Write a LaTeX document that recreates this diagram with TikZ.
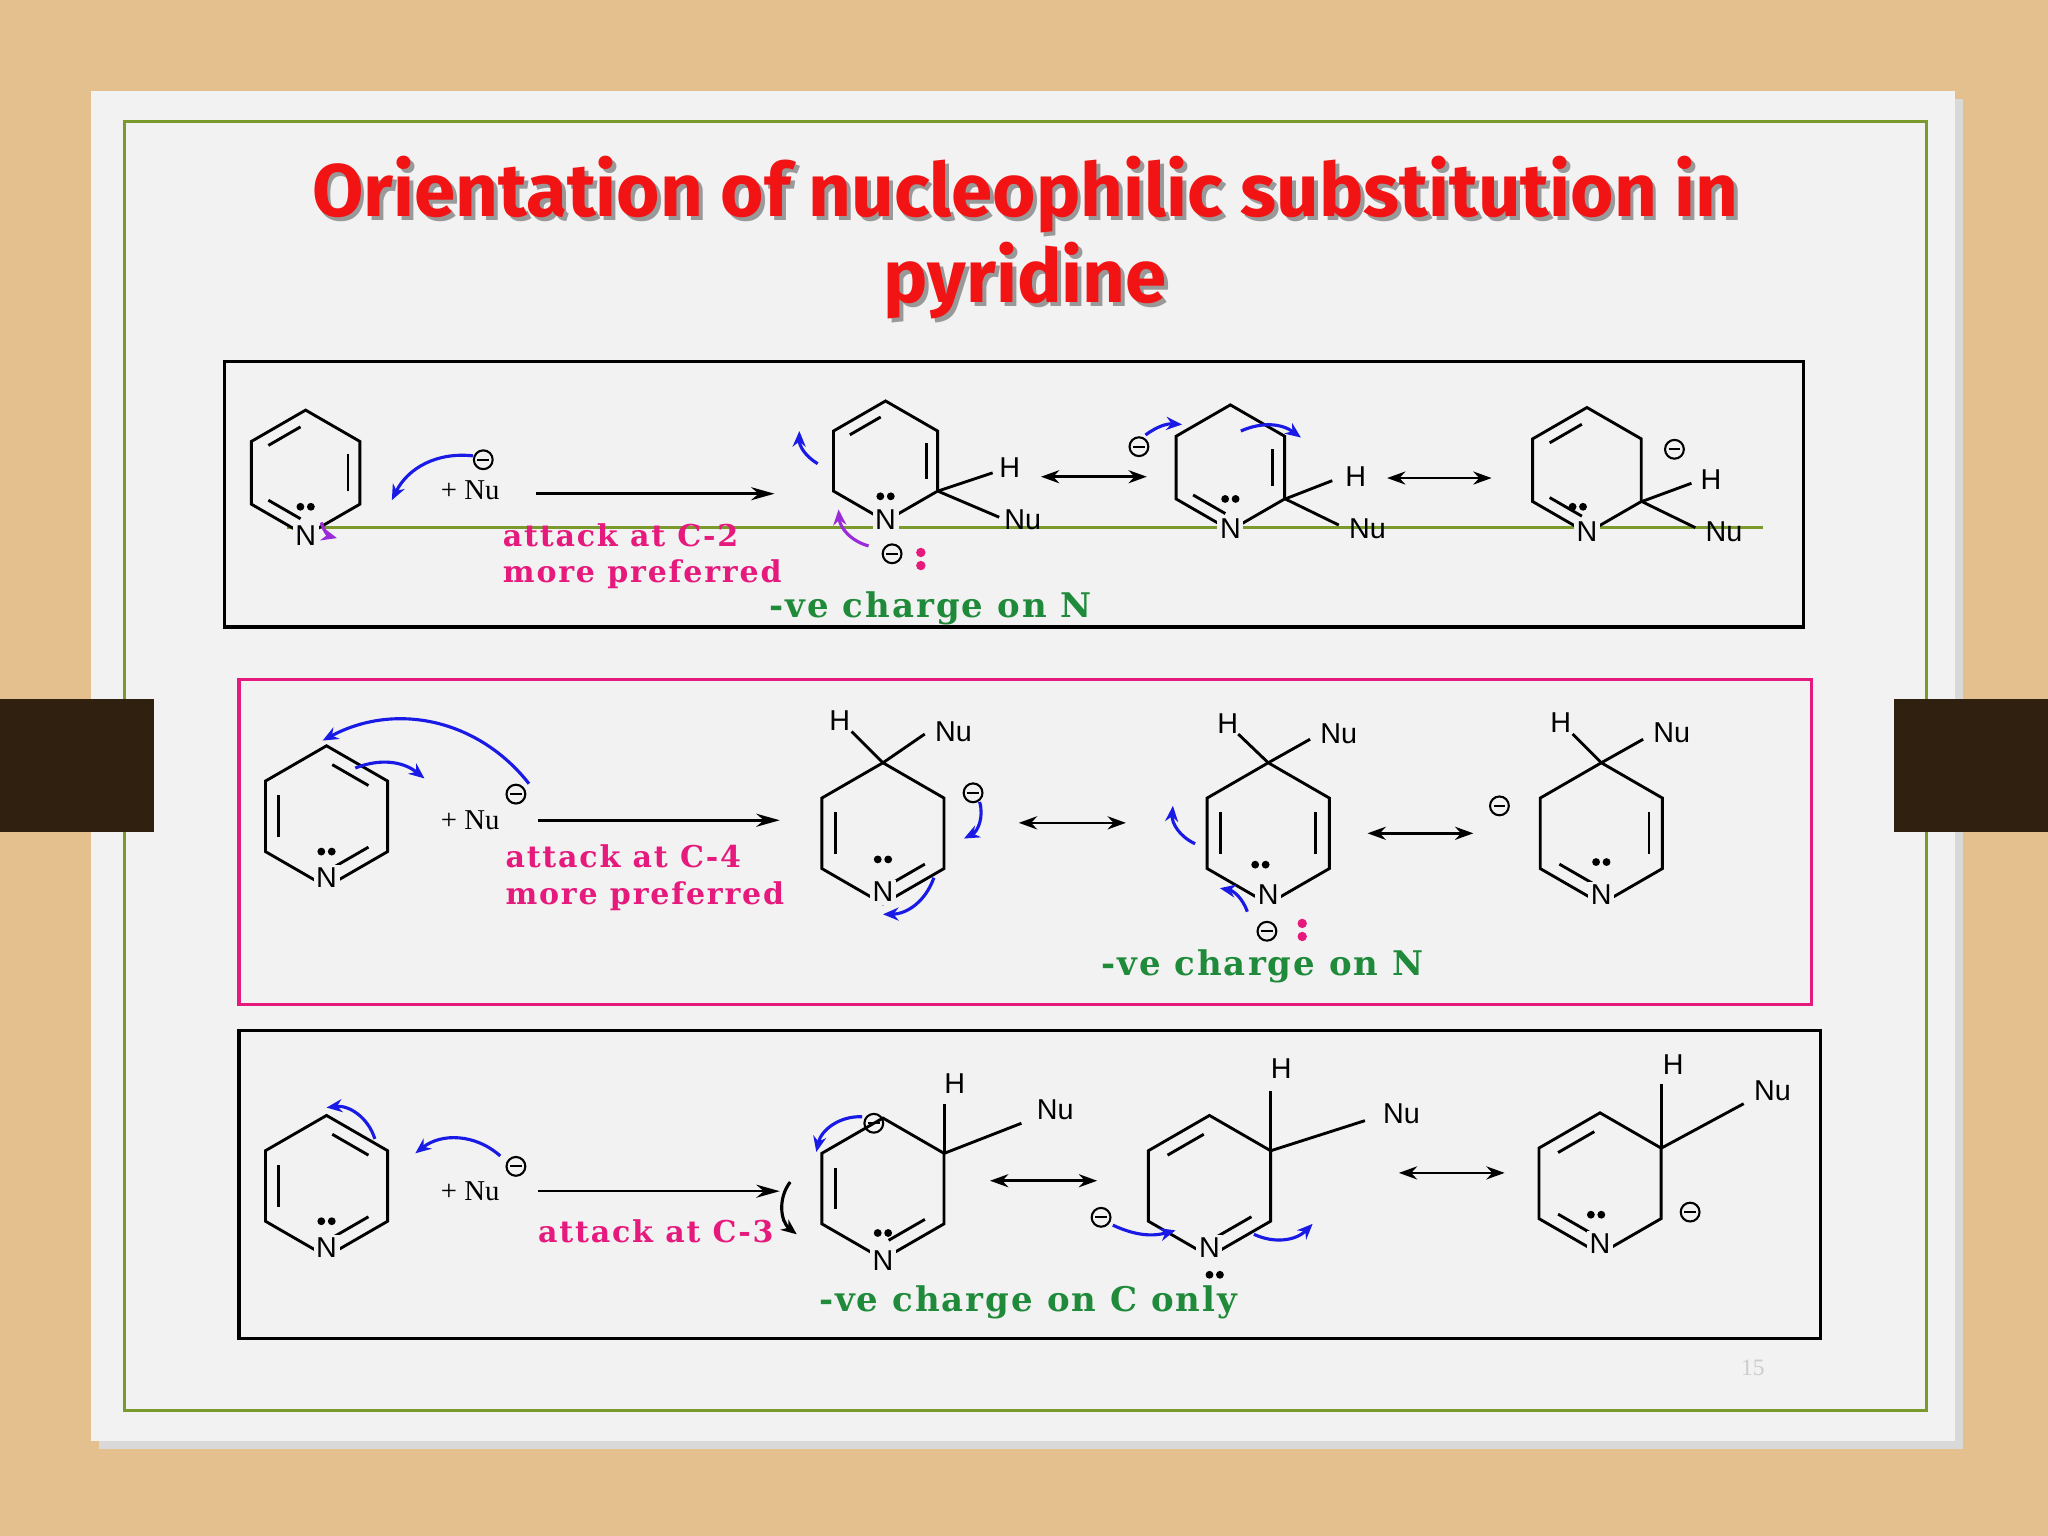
\documentclass[tikz,border=0pt]{standalone}
\usepackage{fontspec}
\setmainfont{Liberation Serif}
\newfontfamily\chemf{Liberation Sans}
\newfontfamily\titlef{Fira Sans}
\newfontfamily\notef[LetterSpace=6]{DejaVu Serif}
\usetikzlibrary{calc,arrows.meta}
\definecolor{wood}{HTML}{E3C08E}
\definecolor{slide}{HTML}{F2F2F2}
\definecolor{olive}{HTML}{7A9A2E}
\definecolor{mag}{HTML}{E6197D}
\definecolor{grn}{HTML}{1F8A3A}
\definecolor{ttl}{HTML}{F21414}
\definecolor{arblue}{HTML}{1A1AE6}
\definecolor{arpur}{HTML}{9A2BD9}
\tikzset{
  bond/.style={line width=1.1pt,black},
  lab/.style={font=\chemf\fontsize{11}{11}\selectfont,inner sep=1pt},
  labn/.style={font=\chemf\fontsize{11}{11}\selectfont,inner sep=1pt,fill=slide},
  note/.style={font=\notef\bfseries\fontsize{11.5}{14}\selectfont,anchor=west},
  gnote/.style={font=\notef\bfseries\fontsize{13}{14}\selectfont,anchor=west,text=grn},
  curv/.style={arblue,line width=1.2pt,-{Stealth[length=6pt,width=5pt]}},
  curp/.style={arpur,line width=1.2pt,-{Stealth[length=6pt,width=5pt]}},
  rxn/.style={line width=1pt,-{Stealth[length=9pt,width=5pt]}},
  res/.style={line width=1pt,{Stealth[length=7pt,width=5pt]}-{Stealth[length=7pt,width=5pt]}},
}
\newcommand{\hexring}[3]{\draw[bond] ($(#1,#2)+(90:#3)$)--($(#1,#2)+(30:#3)$)--($(#1,#2)+(-30:#3)$)--($(#1,#2)+(-90:#3)$)--($(#1,#2)+(-150:#3)$)--($(#1,#2)+(150:#3)$)--cycle;}
\newcommand{\dbl}[5]{\draw[bond] ($(#1,#2)!0.78!($(#1,#2)+(#4:#3)$)!0.12!($(#1,#2)!0.78!($(#1,#2)+(#5:#3)$)$)$)--($(#1,#2)!0.78!($(#1,#2)+(#5:#3)$)!0.12!($(#1,#2)!0.78!($(#1,#2)+(#4:#3)$)$)$);}
\newcommand{\mchg}[2]{\draw[line width=0.8pt] (#1,#2) circle[radius=3.6pt]; \draw[line width=0.8pt] (#1-4.5,#2)--(#1+4.5,#2);}
\newcommand{\lp}[2]{\fill (#1-4,#2) circle[radius=1.5pt]; \fill (#1+4,#2) circle[radius=1.5pt];}
\newcommand{\lpm}[2]{\fill[mag] (#1,#2-5) circle[radius=1.8pt]; \fill[mag] (#1,#2+5) circle[radius=1.8pt];}
\begin{document}
\begin{tikzpicture}[x=0.5pt,y=-0.5pt]
\useasboundingbox (0,0) rectangle (1568,1176);
\fill[wood] (0,0) rectangle (1568,1176);
\fill[black!15] (76,76) rectangle (1503,1109);
\fill[slide] (70,70) rectangle (1497,1103);
\draw[olive,line width=1.2pt] (95,93) rectangle (1475,1080);
\fill[black!75!brown] (0,535) rectangle (118,637);
\fill[black!75!brown] (1450,535) rectangle (1568,637);
\foreach \dx/\col in {3/black!40,0/ttl}{
\node[font=\titlef\bfseries\fontsize{28.5}{33}\selectfont,text=\col,align=center] (title) at (785+\dx,182+\dx) {Orientation of nucleophilic substitution in\\pyridine};}
\draw[line width=1.2pt] (172,277) rectangle (1381,480);
\draw[mag,line width=1.2pt] (183,520) rectangle (1387,769);
\draw[line width=1.2pt] (183,789) rectangle (1394,1025);
% ===== Row 1
\draw[olive,line width=1.2pt] (220,404)--(1350,404);
\hexring{234}{362}{48}
\dbl{234}{362}{48}{-150}{-90} \dbl{234}{362}{48}{30}{-30} \dbl{234}{362}{48}{150}{90}
\node[labn] (n11) at (234,410) {N}; \lp{234}{388}
\node[font=\fontsize{11}{11}\selectfont] (nu1) at (360,375) {+ Nu}; \mchg{370}{352}
\draw[curv] (362,349) to[bend right=35] (300,383);
\draw[curp] (246,400) to[bend right=30] (258,412);
\draw[rxn] (410,378)--(593,378);
\node[note,text=mag,align=left] (t1) at (378,426) {attack at C-2\\more preferred};
\hexring{678}{353}{46}
\dbl{678}{353}{46}{-150}{-90} \dbl{678}{353}{46}{30}{-30}
\node[labn] at (678,398) {N}; \lp{678}{380}
\draw[bond] (718,376)--(760,362); \draw[bond] (718,376)--(765,396);
\node[lab] at (773,358) {H}; \node[lab] at (783,398) {Nu};
\draw[curv] (626,355) to[bend left=30] (612,330);
\draw[curp] (665,418) to[bend left=35] (642,390);
\mchg{683}{424} \lpm{705}{428}
\draw[res] (797,365)--(878,365);
\hexring{942}{358}{48}
\dbl{942}{358}{48}{150}{90} \dbl{942}{358}{48}{30}{-30}
\node[labn] at (942,405) {N}; \lp{942}{382}
\draw[bond] (984,382)--(1020,368); \draw[bond] (984,382)--(1025,402);
\node[lab] at (1038,365) {H}; \node[lab] at (1047,405) {Nu};
\mchg{872}{342}
\draw[curv] (877,333) to[bend left=20] (905,325);
\draw[curv] (950,330) to[bend left=30] (996,335);
\draw[res] (1062,366)--(1142,366);
\hexring{1215}{360}{48}
\dbl{1215}{360}{48}{150}{90} \dbl{1215}{360}{48}{-150}{-90}
\node[labn] at (1215,407) {N}; \lp{1208}{388}
\draw[bond] (1257,384)--(1295,370); \draw[bond] (1257,384)--(1298,404);
\node[lab] at (1310,367) {H}; \node[lab] at (1320,407) {Nu};
\mchg{1282}{344}
\node[gnote] (c1) at (582,466) {-ve charge on N};
% ===== Row 2
\hexring{250}{625}{54}
\dbl{250}{625}{54}{-150}{150} \dbl{250}{625}{54}{-90}{-30} \dbl{250}{625}{54}{30}{90}
\node[labn] at (250,672) {N}; \lp{250}{652}
\draw[curv] (405,600) to[bend right=40] (247,567);
\draw[curv] (272,588) to[bend left=30] (325,596);
\node[font=\fontsize{11}{11}\selectfont] at (360,628) {+ Nu}; \mchg{395}{608}
\draw[rxn] (412,628)--(597,628);
\node[note,text=mag,align=left] at (380,672) {attack at C-4\\more preferred};
\hexring{676}{638}{54}
\dbl{676}{638}{54}{-150}{150} \dbl{676}{638}{54}{30}{90}
\node[labn] at (676,683) {N}; \lp{676}{658}
\draw[bond] (676,584)--(652,560); \draw[bond] (676,584)--(708,562);
\node[lab] at (643,552) {H}; \node[lab] at (730,560) {Nu};
\mchg{745}{607}
\draw[curv] (750,614) to[bend left=40] (738,642);
\draw[curv] (715,672) to[bend left=35] (676,700);
\draw[res] (780,630)--(862,630);
\hexring{971}{638}{54}
\dbl{971}{638}{54}{-150}{150} \dbl{971}{638}{54}{30}{-30}
\node[labn] at (971,685) {N}; \lp{965}{662}
\draw[bond] (971,584)--(948,562); \draw[bond] (971,584)--(1003,566);
\node[lab] at (940,554) {H}; \node[lab] at (1025,562) {Nu};
\draw[curv] (915,646) to[bend left=35] (898,617);
\draw[curv] (955,698) to[bend right=30] (934,680);
\mchg{970}{713} \lpm{997}{712}
\draw[res] (1047,638)--(1128,638);
\hexring{1226}{638}{54}
\dbl{1226}{638}{54}{30}{-30} \dbl{1226}{638}{54}{150}{90}
\node[labn] at (1226,685) {N}; \lp{1226}{660}
\draw[bond] (1226,584)--(1204,562); \draw[bond] (1226,584)--(1258,566);
\node[lab] at (1195,553) {H}; \node[lab] at (1280,561) {Nu};
\mchg{1148}{617}
\node[gnote] at (836,740) {-ve charge on N};
% ===== Row 3
\hexring{250}{908}{54}
\dbl{250}{908}{54}{-150}{150} \dbl{250}{908}{54}{-90}{-30} \dbl{250}{908}{54}{30}{90}
\node[labn] at (250,955) {N}; \lp{250}{935}
\draw[curv] (287,872) to[bend right=40] (250,848);
\draw[curv] (383,885) to[bend right=40] (318,883);
\node[font=\fontsize{11}{11}\selectfont] at (360,912) {+ Nu}; \mchg{395}{893}
\draw[rxn] (412,912)--(597,912);
\node[note,text=mag] at (405,943) {attack at C-3};
\hexring{676}{910}{54}
\dbl{676}{910}{54}{-150}{150} \dbl{676}{910}{54}{30}{90}
\node[labn] at (676,965) {N}; \lp{676}{944}
\draw[bond] (723,883)--(723,845); \draw[bond] (723,883)--(782,860);
\node[lab] at (731,830) {H}; \node[lab] at (808,850) {Nu};
\mchg{669}{860}
\draw[curv] (660,855) to[bend right=40] (625,882);
\draw[black,line width=1.2pt,-{Stealth[length=6pt,width=5pt]}] (605,905) to[bend right=45] (610,945);
\draw[res] (758,904)--(840,904);
\hexring{926}{908}{54}
\dbl{926}{908}{54}{-90}{-150} \dbl{926}{908}{54}{30}{90}
\node[labn] at (926,955) {N}; \lp{930}{976}
\draw[bond] (973,881)--(973,835); \draw[bond] (973,881)--(1045,858);
\node[lab] at (981,818) {H}; \node[lab] at (1073,853) {Nu};
\mchg{843}{932}
\draw[curv] (852,938) to[bend right=20] (900,942);
\draw[curv] (960,945) to[bend right=35] (1005,937);
\draw[res] (1071,898)--(1152,898);
\hexring{1225}{906}{54}
\dbl{1225}{906}{54}{-90}{-150} \dbl{1225}{906}{54}{150}{90}
\node[labn] at (1225,952) {N}; \lp{1222}{930}
\draw[bond] (1272,879)--(1272,830); \draw[bond] (1272,879)--(1335,845);
\node[lab] at (1281,815) {H}; \node[lab] at (1357,835) {Nu};
\mchg{1294}{928}
\node[gnote] at (620,997) {-ve charge on C only};
\node[text=black!20,font=\fontsize{9}{9}\selectfont] at (1342,1047) {15};
\end{tikzpicture}
\end{document}
